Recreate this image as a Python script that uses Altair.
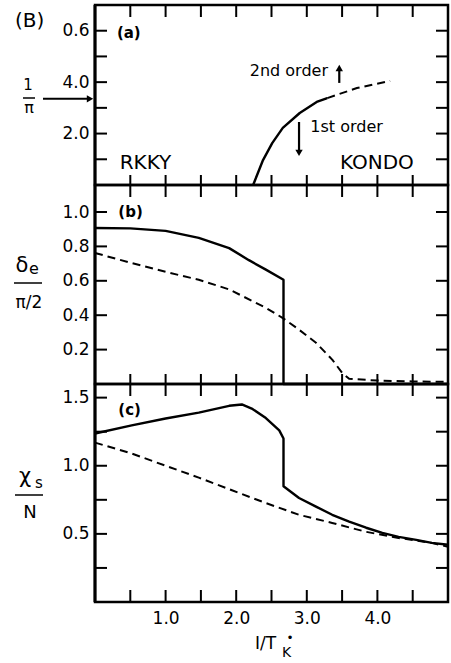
import altair as alt
import pandas as pd

FONT = "DejaVu Sans"
W = 353
H_A, H_B, H_C = 180, 199, 218
DOM_X = [0, 5]
DOM_A = [0, 7.0]
DOM_B = [0, 1.157]
DOM_C = [0, 1.6]

# ---------------- data ----------------
# (a) transition line
a_solid_x = [2.24, 2.38, 2.51, 2.66, 2.90, 3.14, 3.29]
a_solid_y = [0.0, 0.97, 1.63, 2.22, 2.80, 3.23, 3.38]
a_dash_x = [3.29, 3.71, 4.18]
a_dash_y = [3.38, 3.77, 4.05]

# (b) phase shift
b_solid_x = [0.0, 0.5, 1.0, 1.47, 1.9, 2.18, 2.42, 2.67, 2.67, 5.0]
b_solid_y = [0.907, 0.905, 0.89, 0.85, 0.79, 0.72, 0.665, 0.606, 0.0, 0.0]
b_dash_x = [0.0, 0.5, 1.0, 1.47, 1.9, 2.42, 2.65, 2.89, 3.13, 3.36, 3.5, 3.6, 4.0, 4.5, 5.0]
b_dash_y = [0.762, 0.705, 0.652, 0.606, 0.55, 0.443, 0.386, 0.316, 0.24, 0.142,
            0.065, 0.03, 0.02, 0.015, 0.012]

# (c) staggered susceptibility
c_solid_x = [0.0, 0.52, 1.0, 1.47, 1.9, 2.08, 2.22, 2.42, 2.61, 2.67, 2.67, 2.89,
             3.13, 3.36, 3.6, 3.84, 4.07, 4.3, 4.55, 4.77, 5.0]
c_solid_y = [1.237, 1.296, 1.347, 1.39, 1.44, 1.45, 1.42, 1.35, 1.26, 1.20, 0.85,
             0.763, 0.70, 0.64, 0.59, 0.545, 0.507, 0.478, 0.456, 0.434, 0.42]
c_dash_x = [0.0, 0.52, 1.0, 1.47, 1.94, 2.42, 2.89, 3.36, 3.84, 4.3, 4.77, 5.0]
c_dash_y = [1.17, 1.09, 1.0, 0.913, 0.82, 0.726, 0.64, 0.58, 0.515, 0.47, 0.434, 0.405]

# tick positions and labels
x_ticks = [0.5, 1.0, 1.5, 2.0, 2.5, 3.0, 3.5, 4.0, 4.5]
x_labels = [1, 2, 3, 4]
a_yticks = [1, 2, 3, 4, 5, 6]
a_label_vals = [2, 4, 6]
a_label_text = ["2.0", "4.0", "0.6"]
b_yticks = [0.2, 0.4, 0.6, 0.8, 1.0]
c_yticks = [0.25, 0.5, 0.75, 1.0, 1.25, 1.5]
c_label_vals = [0.5, 1.0, 1.5]

ONE = pd.DataFrame({"t": [""]})


def yaxis(vals, expr):
    return alt.Axis(values=vals, labelExpr=expr, ticks=False, domain=False, grid=False,
                    title=None, labelFontSize=17, labelFont=FONT, labelColor="black",
                    labelPadding=6)


class Panel:
    """One stacked panel: shared x scale, its own y scale and axis."""

    def __init__(self, H, dom, yticks, yax, xax=None, bottom_len=10):
        self.H, self.dom, self.yticks = H, dom, yticks
        self.yax, self.xax, self.bottom_len = yax, xax, bottom_len
        self.layers = []

    def X(self):
        return alt.X("x:Q", scale=alt.Scale(domain=DOM_X, nice=False, zero=False),
                     axis=self.xax)

    def Y(self):
        return alt.Y("y:Q", scale=alt.Scale(domain=self.dom, nice=False, zero=False),
                     axis=self.yax)

    def curve(self, xs, ys, dashed=False):
        df = pd.DataFrame({"x": xs, "y": ys, "i": list(range(len(xs)))})
        style = dict(color="black", strokeWidth=2.4, strokeJoin="round")
        if dashed:
            style = dict(color="black", strokeWidth=2.0, strokeJoin="round", strokeDash=[8, 5])
        self.layers.append(alt.Chart(df).mark_line(**style).encode(
            x=self.X(), y=self.Y(), order=alt.Order("i:Q")))

    def frame(self):
        xt = pd.DataFrame({"x": x_ticks})
        yt = pd.DataFrame({"y": self.yticks})
        rs = dict(color="black", strokeWidth=2)
        H = self.H
        self.layers += [
            alt.Chart(xt).mark_rule(**rs).encode(x=self.X(), y=alt.value(0), y2=alt.value(12)),
            alt.Chart(xt).mark_rule(**rs).encode(x=self.X(), y=alt.value(H - self.bottom_len),
                                                 y2=alt.value(H)),
            alt.Chart(yt).mark_rule(**rs).encode(y=self.Y(), x=alt.value(0), x2=alt.value(12)),
            alt.Chart(yt).mark_rule(**rs).encode(y=self.Y(), x=alt.value(W - 12), x2=alt.value(W)),
            alt.Chart(ONE).mark_rule(color="black", strokeWidth=3).encode(
                x=alt.value(0), y=alt.value(0), y2=alt.value(H)),
        ]

    def dtext(self, t, x, y, size, align="left", weight="normal"):
        df = pd.DataFrame({"x": [x], "y": [y], "t": [t]})
        self.layers.append(alt.Chart(df).mark_text(
            font=FONT, fontSize=size, fontWeight=weight, align=align, baseline="middle",
            color="black").encode(x=self.X(), y=self.Y(), text="t:N"))

    def ptext(self, t, px, py, size, align="center", weight="normal", baseline="alphabetic"):
        df = pd.DataFrame({"t": [t]})
        self.layers.append(alt.Chart(df).mark_text(
            font=FONT, fontSize=size, fontWeight=weight, align=align, baseline=baseline,
            color="black").encode(x=alt.value(px), y=alt.value(py), text="t:N"))

    def hbar(self, x1, x2, py, width=1.5):
        self.layers.append(alt.Chart(ONE).mark_rule(color="black", strokeWidth=width).encode(
            x=alt.value(x1), x2=alt.value(x2), y=alt.value(py)))

    def varrow(self, x, y_from, y_to, head_y, shape):
        df = pd.DataFrame({"x": [x], "y": [y_from], "y2": [y_to]})
        self.layers.append(alt.Chart(df).mark_rule(color="black", strokeWidth=2.2).encode(
            x=self.X(), y=self.Y(), y2="y2:Q"))
        hd = pd.DataFrame({"x": [x], "y": [head_y]})
        self.layers.append(alt.Chart(hd).mark_point(
            shape=shape, filled=True, size=55, color="black", opacity=1).encode(
            x=self.X(), y=self.Y()))

    def side_arrow(self, y, x1, x2, head_x):
        df = pd.DataFrame({"y": [y]})
        self.layers.append(alt.Chart(df).mark_rule(color="black", strokeWidth=2).encode(
            y=self.Y(), x=alt.value(x1), x2=alt.value(x2)))
        self.layers.append(alt.Chart(df).mark_point(
            shape="triangle-right", filled=True, size=55, color="black", opacity=1).encode(
            y=self.Y(), x=alt.value(head_x)))

    def chart(self):
        return alt.layer(*self.layers).properties(width=W, height=self.H)


# label expression for the (a) axis
a_expr = " : ".join(f"datum.value == {v} ? '{t}'"
                    for v, t in zip(a_label_vals[:-1], a_label_text[:-1]))
a_expr += f" : '{a_label_text[-1]}'"
fmt1 = "format(datum.value, '.1f')"

# ---------------- panel (a) ----------------
pa = Panel(H_A, DOM_A, a_yticks, yaxis(a_label_vals, a_expr))
pa.curve(a_solid_x, a_solid_y)
pa.curve(a_dash_x, a_dash_y, dashed=True)
pa.frame()
pa.dtext("(a)", 0.31, 5.91, 15, weight="bold")
pa.dtext("RKKY", 0.35, 0.86, 20)
pa.dtext("KONDO", 3.47, 0.86, 20)
pa.dtext("2nd order", 3.30, 4.43, 16, align="right")
pa.dtext("1st order", 3.05, 2.26, 16)
pa.varrow(3.46, 3.97, 4.5, 4.55, "triangle-up")
pa.varrow(2.89, 2.45, 1.3, 1.25, "triangle-down")
pa.side_arrow(3.35, -52, -7, -5)          # 1/pi marker on the axis
pa.ptext("1", -67, 85, 15)
pa.hbar(-72, -60, 93)
pa.ptext("π", -66, 108, 16)
pa.ptext("(B)", -80, 22, 20, align="left")

# ---------------- panel (b) ----------------
pb = Panel(H_B, DOM_B, b_yticks, yaxis(b_yticks, fmt1))
pb.curve(b_solid_x, b_solid_y)
pb.curve(b_dash_x, b_dash_y, dashed=True)
pb.frame()
pb.dtext("(b)", 0.33, 1.0, 15, weight="bold")
pb.ptext("δ", -73, 87, 21)
pb.ptext("e", -66, 89, 16, align="left")
pb.hbar(-81, -53, 98)
pb.ptext("π/2", -66, 123, 17)

# ---------------- panel (c) ----------------
x_axis = alt.Axis(values=x_labels, format=".1f", ticks=False, domain=False, grid=False,
                  title=None, labelFontSize=17, labelFont=FONT, labelColor="black",
                  labelPadding=8)
pc = Panel(H_C, DOM_C, c_yticks, yaxis(c_label_vals, fmt1), xax=x_axis, bottom_len=12)
pc.curve(c_solid_x, c_solid_y)
pc.curve(c_dash_x, c_dash_y, dashed=True)
pc.frame()
pc.dtext("(c)", 0.33, 1.41, 15, weight="bold")
pc.ptext("χ", -70, 99, 21)
pc.ptext("s", -60, 104, 15, align="left")
pc.hbar(-80, -52, 111)
pc.ptext("N", -65, 134, 18)
pc.ptext("I/T", 160, 265, 17, align="left")
pc.ptext("K", 187, 273, 14, align="left")
pc.ptext("•", 195, 254, 12, baseline="middle")

chart = alt.vconcat(pa.chart(), pb.chart(), pc.chart(), spacing=0, bounds="flush").properties(
    padding={"left": 12, "top": 2, "right": 0, "bottom": 0},
    background="white",
).configure_view(stroke="black", strokeWidth=2.5)

chart.save("out.html", embed_options={"renderer": "svg", "actions": False})
